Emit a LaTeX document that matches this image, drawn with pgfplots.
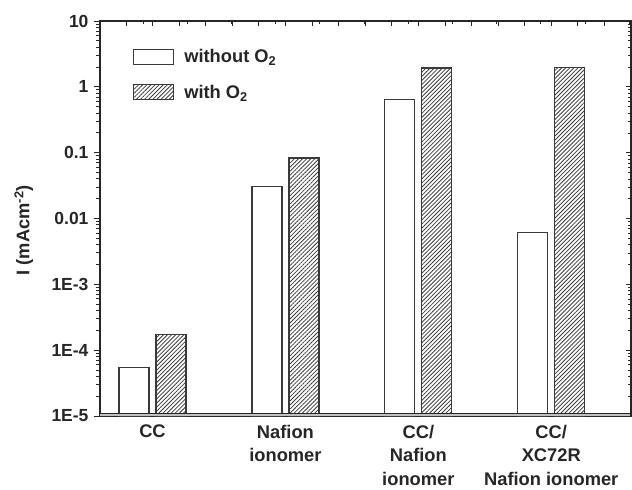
\documentclass[border=0pt]{standalone}
\usepackage{fontspec}
\setmainfont{Liberation Sans}
\usepackage{pgfplots}
\pgfplotsset{compat=1.18}
\usetikzlibrary{patterns.meta}
\definecolor{axcol}{HTML}{262626}
\definecolor{barcol}{HTML}{3A3A3A}
\begin{document}
\begin{tikzpicture}
\useasboundingbox (-100bp,-74bp) rectangle (532bp,416bp);
\begin{axis}[
 name=ax, at={(0,0)}, anchor=south west,
 scale only axis, width=531bp, height=395bp,
 ymode=log, ymin=1e-5, ymax=10, log origin=infty,
 xmin=-0.395, xmax=3.6,
 ybar=7bp, bar width=30bp,
 xtick={0,1,2,3},
 xticklabels={CC, Nafion\\ionomer, CC/\\Nafion\\ionomer, CC/\\XC72R\\Nafion ionomer},
 xticklabel style={align=center, font=\fontsize{18.3bp}{23.5bp}\selectfont\bfseries, text=axcol,
   inner ysep=1bp, yshift=-2bp},
 x tick style={draw=none},
 xtick pos=lower,
 ytick={1e-5,1e-4,1e-3,1e-2,1e-1,1,10},
 yticklabels={1E-5,1E-4,1E-3,0.01,0.1,1,10},
 yticklabel style={font=\fontsize{17.5bp}{19bp}\selectfont\bfseries, text=axcol, xshift=-2bp},
 ytick pos=left, tick align=outside,
 major tick length=6bp, minor tick length=4bp,
 every tick/.style={axcol, line width=0.9bp},
 axis line style={line width=1.3bp, axcol},
 ylabel={I (mAcm\textsuperscript{-2})},
 ylabel style={at={(axis description cs:-0.1435,0.47)}, anchor=center, font=\fontsize{18.3bp}{20bp}\selectfont\bfseries, text=axcol},
 legend style={draw=none, fill=none, at={(axis description cs:0.062,0.934)}, anchor=north west,
   font=\fontsize{18.3bp}{20bp}\selectfont\bfseries, row sep=17bp, inner sep=0pt, text=axcol,
   nodes={inner xsep=6bp}},
 legend cell align=left,
 legend image code/.code={\draw[#1] (0bp,-7.5bp) rectangle (40bp,7.5bp); \path (44bp,0bp);},
]
\addplot[fill=white, draw=barcol, line width=1.2bp] coordinates {(0,5.4e-5) (1,0.031) (2,0.645) (3,0.0062)};
\addlegendentry{without O\textsubscript{2}}
\addplot[pattern={Lines[angle=45,distance=2.9bp,line width=0.8bp]}, pattern color=barcol, draw=barcol, line width=1.2bp] coordinates {(0,1.74e-4) (1,0.083) (2,1.93) (3,1.97)};
\addlegendentry{with O\textsubscript{2}}
\fill[black!25] (axis cs:-0.395,1e-5) rectangle (axis cs:3.6,1.09e-5);
\draw[axcol, line width=0.8bp] (axis cs:-0.395,1.09e-5) -- (axis cs:3.6,1.09e-5);
\end{axis}
\begin{axis}[
 at={(0,0)}, anchor=south west,
 scale only axis, width=531bp, height=395bp,
 ymode=log, ymin=1e-5, ymax=10,
 xmin=-0.395, xmax=3.6,
 axis line style={draw=none},
 ytick={1e-5,1e-4,1e-3,1e-2,1e-1,1,10}, yticklabels={},
 ytick pos=right, xtick pos=upper, tick align=inside,
 xtick={}, xticklabels={},
 minor xtick={-0.071,0.2615,0.594,0.9265,1.259,1.5915,1.924,2.2565,2.589,2.9215,3.254,3.5865},
 major tick length=5bp, minor tick length=3bp,
 every tick/.style={axcol, line width=0.7bp},
]
\addplot[draw=none] coordinates {(0,1)};
\end{axis}
\draw[axcol, line width=1.3bp] (531bp,0) -- (531bp,395bp);
\end{tikzpicture}
\end{document}
